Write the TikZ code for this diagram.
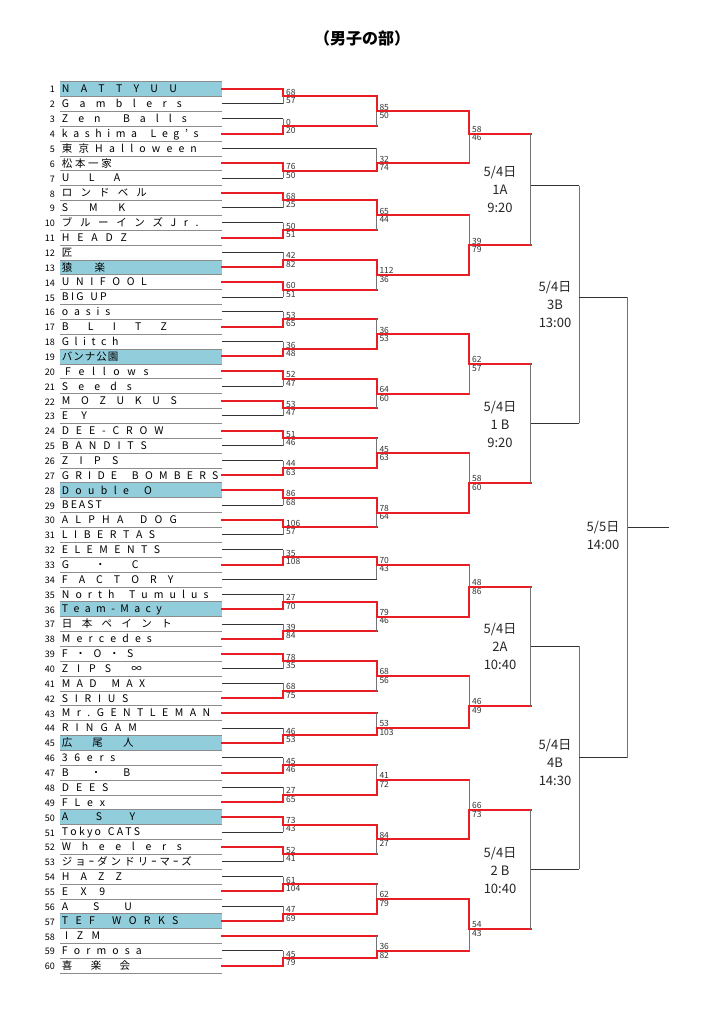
\documentclass[tikz,border=0pt]{standalone}
\usepackage{fontspec}
\setmainfont{Noto Sans CJK JP}

\definecolor{winred}{RGB}{232,30,36}
\definecolor{seedblue}{RGB}{146,205,220}

% spread the letters of a name over a fixed width
\def\spreadit#1{#1\futurelet\spreadnext\spreadcheck}
\def\spreadcheck{\ifx\spreadnext\relax\expandafter\spreadstop\else\expandafter\spreadgo\fi}
\def\spreadgo{\hfil\spreadit}
\def\spreadstop\relax{}

% one arm of a game: input -> column of the game -> game
\newcommand\arm[3]{%
  \draw[h#2] (#1) -- (#1 -| #3);
  \draw[v#2] (#1 -| #3) -- (#3);}
% game: name, x, half-row, loser side, state, winner side, state
\newcommand\game[7]{%
  \coordinate (#1) at (#2,{89+7.43*#3});
  \arm{#4}{#5}{#1}\arm{#6}{#7}{#1}}
\newcommand\scores[3]{%
  \node[score] (#1t) at ([xshift=2.6pt,yshift=1pt]#1) {#2};
  \node[score] (#1b) at ([xshift=2.6pt,yshift=-7.4pt]#1) {#3};}

\tikzset{
  hW/.style={draw=winred,line width=2pt,line cap=rect},
  vW/.style={draw=winred,line width=2pt,line cap=rect},
  hR/.style={draw=winred,line width=2pt,line cap=rect},
  vR/.style={draw=black!55,line width=0.9pt},
  hL/.style={draw=black!80,line width=0.9pt},
  vL/.style={draw=black!55,line width=0.9pt},
  score/.style={anchor=base west,inner sep=0pt,text=black!80,font=\fontsize{8.5}{8.5}\selectfont},
  num/.style={anchor=base east,inner sep=0pt,font=\fontsize{9}{9}\selectfont},
  tname/.style={anchor=base west,inner sep=0pt,font=\fontsize{10.5}{12}\selectfont},
  rowline/.style={draw=black!45,line width=0.6pt},
  slot/.style={align=center,inner sep=0pt,text=black!85,font=\fontsize{13}{18}\selectfont},
  title/.style={inner sep=0pt,font=\bfseries\fontsize{16}{16}\selectfont}
}

\begin{document}
\begin{tikzpicture}[x=1pt,y=-1pt]
\fill[white] (0,0) rectangle (724,1024);
\useasboundingbox (0,0) rectangle (724,1024);

\node[title] (ttl) at (362,38) {（男子の部）};

%team list
\foreach \i in {1,13,19,28,36,45,50,57}
  \fill[seedblue] (60,{81.57+14.86*(\i-1)}) rectangle (222,{81.57+14.86*\i});
\foreach \i in {0,...,60}
  \draw[rowline] (60,{81.57+14.86*\i}) -- (222,{81.57+14.86*\i});
\foreach \i in {1,...,60}{
  \node[num] (n\i) at (55,{89+14.86*(\i-1)+4}) {\i};
  \coordinate (t\i) at (222,{89+14.86*(\i-1)});
}
\foreach \i/\px/\w/\s in {
  1/61.7/115/NATTYUU, 2/61.7/120/Gamblers, 3/61.7/125/Zen~Balls,
  4/61.7/136.6/kashima~Leg's, 5/61.7/135/東京Halloween, 6/61.7/50/松本一家,
  7/61.7/58.3/U~L~A, 8/61.7/85/ロンドベル, 9/61.7/63.3/S~M~K,
  10/61.7/136.6/ブルーインズJr., 11/61.7/65/HEADZ, 12/61.7/11/匠,
  13/61.7/43.3/猿~楽, 14/61.7/85/UNIFOOL, 15/61.7/45/BIG~UP,
  16/61.7/48.3/oasis, 17/61.7/105/B~L~I~T~Z, 18/61.7/56.6/Glitch,
  19/61.7/56.6/バンナ公園, 20/65/83.3/Fellows, 21/61.7/70/Seeds,
  22/61.7/115/MOZUKUS, 23/61.7/25/EY, 24/61.7/101.6/DEE-CROW,
  25/61.7/85/BANDITS, 26/61.7/56.6/ZIPS, 27/61.7/156.6/GRIDE~BOMBERS,
  28/61.7/90/Double~O, 29/61.7/40/BEAST, 30/61.7/115/ALPHA~DOG,
  31/61.7/93.3/LIBERTAS, 32/61.7/98.3/ELEMENTS, 33/61.7/76.6/G~・~C,
  34/61.7/111.6/FACTORY, 35/61.7/146.6/North~Tumulus, 36/61.7/100/Team-Macy,
  37/61.7/110/日本ペイント, 38/61.7/90/Mercedes, 39/61.7/71.6/F・O・S,
  40/61.7/80/ZIPS~∞, 41/61.7/83.3/MAD~MAX, 42/61.7/66.6/SIRIUS,
  43/61.7/148.3/Mr.GENTLEMAN, 44/61.7/75/RINGAM, 45/61.7/71.6/広~尾~人,
  46/61.7/53.3/36ers, 47/61.7/68.3/B~・~B, 48/61.7/46.6/DEES,
  49/61.7/43.3/FLex, 50/61.7/73.3/A~S~Y, 51/61.7/78.3/Tokyo~CATS,
  52/61.7/120/Wheelers, 53/61.7/130/ジョｰダンドリｰマｰズ, 54/61.7/60/HAZZ,
  55/61.7/43.3/EX9, 56/61.7/70/A~S~U, 57/61.7/116.6/TEF~WORKS,
  58/65/35/IZM, 59/61.7/80/Formosa, 60/61.7/68.3/喜~楽~会}
  \node[tname] (p\i) at (\px,{89+14.86*(\i-1)+3.8}) {\hbox to \w pt{\expandafter\spreadit\s\relax}};

%first round
\foreach \g/\k/\lo/\wi/\st/\sb in {
  a1/1/t2/t1/68/57, a2/5/t3/t4/0/20, a3/11/t7/t6/76/50, a4/15/t9/t8/68/25,
  a5/19/t10/t11/50/51, a6/23/t12/t13/42/82, a7/27/t15/t14/60/51,
  a8/31/t16/t17/53/65, a9/35/t18/t19/36/48, a10/39/t21/t20/52/47,
  a11/43/t23/t22/53/47, a12/47/t25/t24/51/46, a13/51/t26/t27/44/63,
  a14/55/t29/t28/86/68, a15/59/t31/t30/106/57, a16/63/t32/t33/35/108,
  a17/69/t35/t36/27/70, a18/73/t37/t38/39/84, a19/77/t40/t39/78/35,
  a20/81/t41/t42/68/75, a21/87/t44/t45/46/53, a22/91/t46/t47/45/46,
  a23/95/t48/t49/27/65, a24/99/t51/t50/73/43, a25/103/t53/t52/52/41,
  a26/107/t54/t55/61/104, a27/111/t56/t57/47/69, a28/117/t59/t60/45/79}{
  \game{\g}{283.3}{\k}{\lo}{L}{\wi}{W}
  \scores{\g}{\st}{\sb}
}

%second round
\game{b1}{376.7}{3}{a2}{R}{a1}{W}     \scores{b1}{85}{50}
\game{b2}{376.7}{10}{t5}{L}{a3}{W}    \scores{b2}{32}{74}
\game{b3}{376.7}{17}{a5}{R}{a4}{W}    \scores{b3}{65}{44}
\game{b4}{376.7}{25}{a7}{R}{a6}{W}    \scores{b4}{112}{36}
\game{b5}{376.7}{33}{a8}{R}{a9}{W}    \scores{b5}{36}{53}
\game{b6}{376.7}{41}{a11}{R}{a10}{W}  \scores{b6}{64}{60}
\game{b7}{376.7}{49}{a12}{R}{a13}{W}  \scores{b7}{45}{63}
\game{b8}{376.7}{57}{a15}{R}{a14}{W}  \scores{b8}{78}{64}
\game{b9}{376.7}{64}{t34}{L}{a16}{W}  \scores{b9}{70}{43}
\game{b10}{376.7}{71}{a18}{R}{a17}{W} \scores{b10}{79}{46}
\game{b11}{376.7}{79}{a20}{R}{a19}{W} \scores{b11}{68}{56}
\game{b12}{376.7}{86}{t43}{R}{a21}{W} \scores{b12}{53}{103}
\game{b13}{376.7}{93}{a22}{R}{a23}{W} \scores{b13}{41}{72}
\game{b14}{376.7}{101}{a25}{R}{a24}{W} \scores{b14}{84}{27}
\game{b15}{376.7}{109}{a26}{R}{a27}{W} \scores{b15}{62}{79}
\game{b16}{376.7}{116}{t58}{R}{a28}{W} \scores{b16}{36}{82}

%third round
\game{c1}{469.3}{6}{b2}{R}{b1}{W}     \scores{c1}{58}{46}
\game{c2}{469.3}{21}{b3}{R}{b4}{W}    \scores{c2}{39}{79}
\game{c3}{469.3}{37}{b6}{R}{b5}{W}    \scores{c3}{62}{57}
\game{c4}{469.3}{53}{b7}{R}{b8}{W}    \scores{c4}{58}{60}
\game{c5}{469.3}{67}{b9}{R}{b10}{W}   \scores{c5}{48}{86}
\game{c6}{469.3}{83}{b11}{R}{b12}{W}  \scores{c6}{46}{49}
\game{c7}{469.3}{97}{b13}{R}{b14}{W}  \scores{c7}{66}{73}
\game{c8}{469.3}{113}{b16}{R}{b15}{W} \scores{c8}{54}{43}

%blocks, semifinals, final
\game{d1}{530.7}{13}{c1}{R}{c2}{R}
\game{d2}{530.7}{45}{c3}{R}{c4}{R}
\game{d3}{530.7}{75}{c5}{R}{c6}{R}
\game{d4}{530.7}{105}{c7}{R}{c8}{R}
\game{e1}{579.3}{28}{d1}{L}{d2}{L}
\game{e2}{579.3}{90}{d3}{L}{d4}{L}
\game{f1}{627.7}{59}{e1}{L}{e2}{L}
\coordinate (champ) at (669.3,{89+7.43*59});
\draw[hL] (f1) -- (champ);

%dates
\node[slot] (s1A) at (500,189.5) {5/4日\\1A\\9:20};
\node[slot] (s1B) at (500,424) {5/4日\\1 B\\9:20};
\node[slot] (s2A) at (500,646.7) {5/4日\\2A\\10:40};
\node[slot] (s2B) at (500,870) {5/4日\\2 B\\10:40};
\node[slot] (s3B) at (555,304) {5/4日\\3B\\13:00};
\node[slot] (s4B) at (555,762) {5/4日\\4B\\14:30};
\node[slot] (s5) at (603,535.5) {5/5日\\14:00};

\end{tikzpicture}
\end{document}
